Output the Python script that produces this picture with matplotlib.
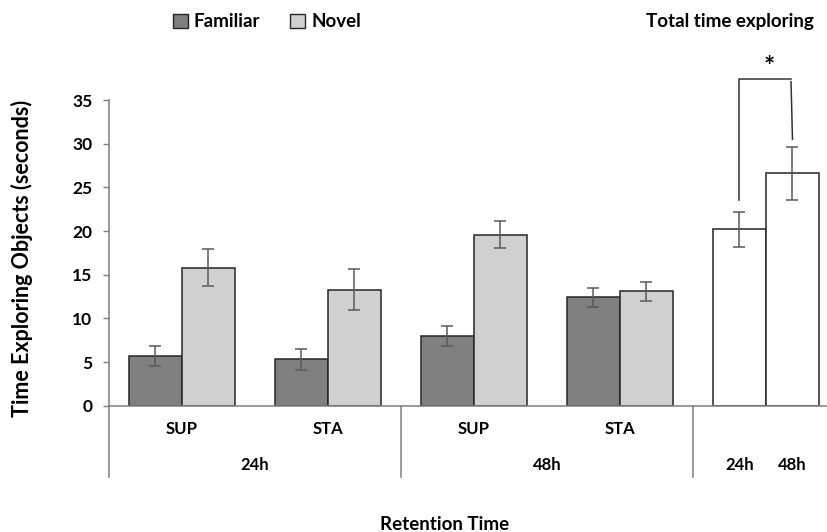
import matplotlib.pyplot as plt
import numpy as np
from matplotlib.patches import Patch

plt.rcParams["font.family"] = ["Lato", "DejaVu Sans"]
plt.rcParams["font.weight"] = "bold"

# Datos: tiempo de exploración (s) por condición
grupos = ["SUP", "STA", "SUP", "STA"]
retencion = ["24h", "48h"]
familiar = [5.7, 5.3, 8.0, 12.4]
familiar_err = [1.1, 1.2, 1.15, 1.1]
novel = [15.8, 13.3, 19.6, 13.1]
novel_err = [2.1, 2.35, 1.55, 1.1]
total_labels = ["24h", "48h"]
total = [20.2, 26.6]
total_err = [2.0, 3.0]

ancho = 0.363
gris_eje = "#7f7f7f"
gris_err = "#5a5a5a"
borde = "#262626"

fig = plt.figure(figsize=(8.27, 5.32), dpi=100)
ax = fig.add_axes([0.1318, 0.2374, 0.8682, 0.5746])

x = np.arange(len(grupos))
ax.bar(x, familiar, width=-ancho, align="edge", color="#808080",
       edgecolor=borde, linewidth=1.1, zorder=2)
ax.bar(x, novel, width=ancho, align="edge", color="#d0d0d0",
       edgecolor=borde, linewidth=1.1, zorder=2)
ax.errorbar(x - ancho / 2, familiar, yerr=familiar_err, fmt="none",
            ecolor=gris_err, elinewidth=1.1, capsize=4, capthick=1.1, zorder=3)
ax.errorbar(x + ancho / 2, novel, yerr=novel_err, fmt="none",
            ecolor=gris_err, elinewidth=1.1, capsize=4, capthick=1.1, zorder=3)

# Tiempo total de exploración
xt = np.array([4 - ancho / 2, 4 + ancho / 2])
ax.bar(xt, total, width=ancho, color="white", edgecolor=borde,
       linewidth=1.1, zorder=2)
ax.errorbar(xt, total, yerr=total_err, fmt="none", ecolor=gris_err,
            elinewidth=1.1, capsize=4, capthick=1.1, zorder=3)

# Corchete de significancia
ax.plot([xt[0], xt[0], xt[1] - 0.01], [23.55, 37.4, 37.4], color="#333333",
        lw=1.1, clip_on=False)
ax.plot([xt[1] - 0.01, xt[1]], [37.1, 30.5], color="#333333", lw=1.1,
        clip_on=False)
ax.text(4.02, 38.8, "*", ha="center", va="center", fontsize=19, clip_on=False)

ax.set_xlim(-0.5, 4.418)
ax.set_ylim(0, 35)
ax.set_yticks(np.arange(0, 36, 5))
ax.tick_params(axis="y", direction="out", length=4, width=1, color=gris_eje,
               labelsize=12.5, pad=8)
ax.set_xticks([])
for lado in ["top", "right"]:
    ax.spines[lado].set_visible(False)
ax.spines["left"].set_color(gris_eje)
ax.spines["bottom"].set_color(gris_eje)
ax.spines["left"].set_linewidth(1.1)
ax.spines["bottom"].set_linewidth(1.1)

# Eje de categorías en dos niveles
fondo = -8.16
for xd in [-0.5, 1.5, 3.5]:
    ax.plot([xd, xd], [0, fondo], color=gris_eje, lw=1.1, clip_on=False)
for xi, g in zip(x, grupos):
    ax.text(xi, -2.7, g, ha="center", va="center", fontsize=12)
for xi, r in zip([0.5, 2.5], retencion):
    ax.text(xi, -6.8, r, ha="center", va="center", fontsize=12)
for xi, r in zip(xt, total_labels):
    ax.text(xi, -6.8, r, ha="center", va="center", fontsize=12)

fig.text(0.538, 1 - 524 / 532, "Retention Time", ha="center", va="center",
         fontsize=13.5)
fig.text(0.027, 0.515, "Time Exploring Objects (seconds)", rotation=90,
         ha="center", va="center", fontsize=15.5)
fig.text(0.883, 0.959, "Total time exploring", ha="center", va="center",
         fontsize=13.5)

handles = [Patch(facecolor="#808080", edgecolor=borde, label="Familiar"),
           Patch(facecolor="#d0d0d0", edgecolor=borde, label="Novel")]
fig.legend(handles=handles, ncol=2, loc="center", bbox_to_anchor=(0.323, 0.959),
           frameon=False, fontsize=13.5, handlelength=0.8, handleheight=0.8,
           handletextpad=0.3, columnspacing=1.6)

fig.savefig("out.png", dpi=100)
